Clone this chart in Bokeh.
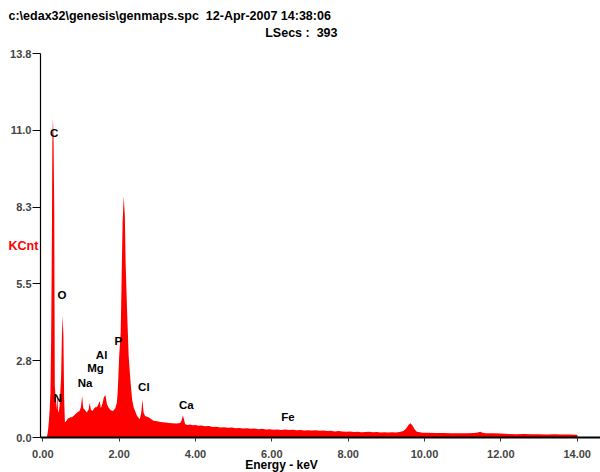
from bokeh.plotting import figure
from bokeh.models import (ColumnDataSource, FixedTicker, PrintfTickFormatter, Range1d)
from bokeh.core.properties import value
from bokeh.embed import file_html
from bokeh.resources import INLINE

# ---- data ----
energy_kev = [0.10, 0.12, 0.14, 0.16, 0.18, 0.20, 0.22, 0.24, 0.25, 0.265, 0.28, 0.30, 0.315, 0.34,
              0.36, 0.38, 0.40, 0.42, 0.44, 0.48, 0.50, 0.52, 0.54, 0.56, 0.58, 0.62, 0.66, 0.72,
              0.78, 0.84, 0.90, 0.96, 1.00, 1.03, 1.06, 1.10, 1.15, 1.20, 1.23, 1.26, 1.30, 1.36,
              1.42, 1.46, 1.49, 1.52, 1.56, 1.60, 1.64, 1.68, 1.72, 1.78, 1.84, 1.90, 1.94, 1.96,
              1.98, 2.00, 2.04, 2.06, 2.09, 2.12, 2.15, 2.17, 2.21, 2.25, 2.30, 2.34, 2.38, 2.47,
              2.54, 2.58, 2.61, 2.64, 2.68, 2.78, 2.90, 3.00, 3.08, 3.20, 3.30, 3.40, 3.50, 3.60,
              3.64, 3.67, 3.70, 3.73, 3.80, 3.86, 3.92, 4.00, 4.08, 4.16, 4.25, 4.35, 4.45, 4.55,
              4.65, 4.75, 4.85, 4.95, 5.05, 5.15, 5.25, 5.35, 5.45, 5.55, 5.65, 5.75, 5.85, 5.95,
              6.05, 6.15, 6.25, 6.35, 6.45, 6.55, 6.65, 6.75, 6.85, 6.95, 7.05, 7.15, 7.25, 7.35,
              7.45, 7.55, 7.65, 7.75, 7.85, 7.95, 8.05, 8.15, 8.25, 8.35, 8.45, 8.55, 8.65, 8.75,
              8.85, 8.95, 9.05, 9.15, 9.25, 9.35, 9.45, 9.52, 9.58, 9.63, 9.68, 9.74, 9.80, 9.88,
              9.95, 10.10, 10.30, 10.50, 10.70, 10.90, 11.10, 11.30, 11.40, 11.46, 11.52, 11.60,
              11.80, 12.00, 12.20, 12.40, 12.60, 12.80, 13.00, 13.20, 13.40, 13.60, 13.80, 13.95,
              14.00, 14.02]
counts_kcnt = [0.00, 0.10, 0.30, 0.60, 1.00, 1.60, 3.70, 7.50, 10.60, 11.47, 10.90, 8.20, 1.85, 1.37,
               1.00, 1.60, 0.90, 0.95, 1.13, 2.20, 3.60, 4.38, 3.64, 1.37, 0.54, 0.60, 0.68, 0.72,
               0.75, 0.82, 0.90, 0.95, 1.10, 1.49, 1.05, 1.00, 0.90, 1.00, 1.25, 1.00, 0.95, 1.08,
               1.10, 1.20, 1.31, 1.05, 1.20, 1.45, 1.53, 1.20, 1.08, 0.98, 0.95, 1.05, 1.25, 1.60,
               2.20, 2.90, 3.77, 5.30, 7.70, 8.66, 7.94, 6.28, 4.49, 2.92, 1.98, 1.37, 1.09, 0.77,
               0.66, 0.90, 1.37, 0.90, 0.77, 0.72, 0.60, 0.58, 0.56, 0.54, 0.52, 0.51, 0.50, 0.52,
               0.62, 0.80, 0.65, 0.48, 0.45, 0.47, 0.44, 0.45, 0.42, 0.43, 0.40, 0.41, 0.38, 0.39,
               0.36, 0.37, 0.35, 0.36, 0.33, 0.34, 0.32, 0.33, 0.31, 0.32, 0.30, 0.31, 0.29, 0.30,
               0.28, 0.29, 0.27, 0.29, 0.27, 0.28, 0.26, 0.27, 0.25, 0.26, 0.25, 0.26, 0.24, 0.25,
               0.23, 0.24, 0.22, 0.23, 0.22, 0.21, 0.22, 0.20, 0.21, 0.19, 0.20, 0.21, 0.19, 0.20,
               0.18, 0.19, 0.18, 0.19, 0.18, 0.20, 0.23, 0.32, 0.45, 0.51, 0.44, 0.30, 0.21, 0.19,
               0.17, 0.17, 0.16, 0.16, 0.15, 0.15, 0.15, 0.16, 0.18, 0.21, 0.17, 0.15,
               0.15, 0.14, 0.13, 0.12, 0.13, 0.12, 0.12, 0.11, 0.12, 0.11, 0.11, 0.10,
               0.10, 0.00]

x_ticks = [0, 2, 4, 6, 8, 10, 12, 14]
y_ticks = [0.0, 2.76, 5.52, 8.28, 11.04, 13.8]

element_names = ["C", "O", "N", "Na", "Mg", "Al", "P", "Cl", "Ca", "Fe"]
element_label_x = [0.30, 0.505, 0.387, 1.107, 1.38, 1.54, 1.98, 2.647, 3.76, 6.42]
element_label_y = [10.95, 5.12, 1.41, 1.95, 2.49, 2.97, 3.48, 1.82, 1.17, 0.72]

NBSP = "\u00a0"
header_line1 = "c:\\edax32\\genesis\\genmaps.spc" + NBSP + NBSP + "12-Apr-2007 14:38:06"
header_line2 = "LSecs :" + NBSP + NBSP + "393"
y_title = "KCnt"
x_title = "Energy - keV"

# ---- layout: the plotting frame fills the whole canvas ----
W, H = 600, 472
X0_PX, X_SCALE = 42.3, 38.17      # pixel of 0 keV, pixels per keV
Y0_PX, Y_SCALE = 437.0, 384.0 / 13.8   # pixel of 0 KCnt, pixels per KCnt


def px_x(px):
    return (px - X0_PX) / X_SCALE


def px_y(py):
    return (Y0_PX - py) / Y_SCALE


p = figure(width=W, height=H, output_backend="svg", toolbar_location=None,
           x_range=Range1d(px_x(0), px_x(W)), y_range=Range1d(px_y(H), px_y(0)),
           min_border=0, min_border_left=0, min_border_right=0,
           min_border_top=0, min_border_bottom=0)
p.outline_line_color = None
p.grid.visible = False
p.background_fill_color = "white"
p.border_fill_color = "white"

src = ColumnDataSource(dict(x=energy_kev, y=counts_kcnt))
p.varea(x="x", y1=0, y2="y", source=src, fill_color="#ff0000")

lab = ColumnDataSource(dict(x=element_label_x, y=element_label_y, t=element_names))
p.text(x="x", y="y", text="t", source=lab, text_font=value("Liberation Sans"),
       text_font_style="bold", text_font_size="11.5px", text_align="center",
       text_baseline="alphabetic", text_color="black")

# x axis, drawn inside the frame at y = 0
xa = p.xaxis[0]
xa.fixed_location = 0
xa.bounds = (px_x(40), px_x(W))
xa.ticker = FixedTicker(ticks=x_ticks)
xa.formatter = PrintfTickFormatter(format="%.2f")
xa.major_label_text_font = "Liberation Sans"
xa.major_label_text_font_style = "bold"
xa.major_label_text_font_size = "11px"
xa.major_label_standoff = 8
xa.major_tick_out = 4
xa.major_tick_in = 0
xa.minor_tick_out = 0
xa.minor_tick_in = 0
xa.axis_line_width = 2
xa.axis_line_color = "black"
xa.major_tick_line_color = "#333333"

# y axis, drawn inside the frame at the left edge of the spectrum area
ya = p.yaxis[0]
ya.fixed_location = px_x(40)
ya.bounds = (0, 13.8)
ya.ticker = FixedTicker(ticks=y_ticks)
ya.formatter = PrintfTickFormatter(format="%.1f")
ya.major_label_text_font = "Liberation Sans"
ya.major_label_text_font_style = "bold"
ya.major_label_text_font_size = "11px"
ya.major_label_standoff = 1
ya.major_tick_out = 8
ya.major_tick_in = 0
ya.minor_tick_out = 0
ya.minor_tick_in = 0
ya.axis_line_width = 1.2
ya.axis_line_color = "black"

# free texts
txt = ColumnDataSource(dict(
    x=[px_x(8), px_x(337), px_x(8), px_x(281)],
    y=[px_y(15), px_y(32), px_y(245), px_y(464)],
    t=[header_line1, header_line2, y_title, x_title],
    align=["left", "right", "left", "center"],
    color=["black", "black", "#ff0000", "black"],
    size=["12.5px", "12.5px", "12.5px", "12px"],
))
p.text(x="x", y="y", text="t", source=txt, text_font=value("Liberation Sans"),
       text_font_style="bold", text_font_size="size", text_align="align",
       text_baseline="alphabetic", text_color="color")

open("out.html", "w").write(file_html(p, INLINE))
